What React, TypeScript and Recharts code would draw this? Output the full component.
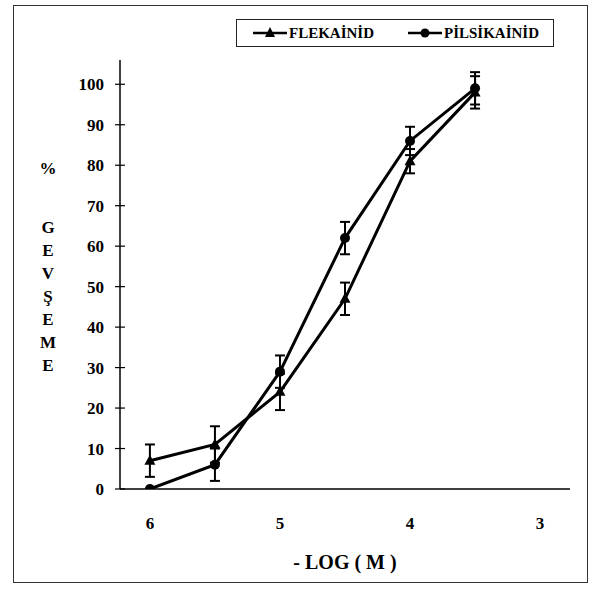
import { ErrorBar, Line, LineChart, XAxis, YAxis } from "recharts"

// -log(M) concentrations
const logM = [6, 5.5, 5, 4.5, 4, 3.5]

// % gevşeme values with error (SEM)
const flekainid = [7, 11, 24, 47, 81, 98]
const flekainidErr = [4, 4.5, 4.5, 4, 3, 4]
const pilsikainid = [0, 6, 29, 62, 86, 99]
const pilsikainidErr = [0, 4, 4, 4, 3.5, 4]

const xTicks = [6, 5, 4, 3]
const yTicks = [0, 10, 20, 30, 40, 50, 60, 70, 80, 90, 100]
const yLabel = ["%", "", "G", "E", "V", "Ş", "E", "M", "E"]

const FONT = '"Liberation Serif", "Times New Roman", serif'

const data = logM.map((m, i) => ({
  logM: m,
  flek: flekainid[i],
  flekErr: flekainidErr[i],
  pils: pilsikainid[i],
  pilsErr: pilsikainidErr[i],
}))

const Triangle = (props: any) => {
  const { cx, cy } = props
  if (cx == null || cy == null) return null
  return <path d={`M${cx},${cy - 6} L${cx + 5.5},${cy + 4} L${cx - 5.5},${cy + 4} Z`} fill="#000" />
}

const Dot = (props: any) => {
  const { cx, cy } = props
  if (cx == null || cy == null) return null
  return <circle cx={cx} cy={cy} r={5} fill="#000" />
}

// y ticks drawn as little crosses on the axis, like the original
const YTick = ({ y, payload }: any) => (
  <g>
    <line x1={115} x2={125} y1={y} y2={y} stroke="#000" strokeWidth={1.2} />
    <text x={104} y={y} dy={6} textAnchor="end" fontFamily={FONT} fontWeight="bold" fontSize={17} fill="#000">
      {payload.value}
    </text>
  </g>
)

const LegendBox = () => (
  <div
    style={{
      position: "absolute",
      left: 236,
      top: 19,
      border: "1.5px solid #222",
      width: 318,
      height: 28,
      display: "flex",
      alignItems: "center",
      fontFamily: FONT,
      fontWeight: "bold",
      fontSize: 15,
      color: "#000",
      boxSizing: "border-box",
    }}
  >
    <svg width={36} height={14} style={{ marginLeft: 15 }}>
      <line x1={1} x2={35} y1={7} y2={7} stroke="#000" strokeWidth={2.5} />
      <path d="M18,1 L23,11 L13,11 Z" fill="#000" />
    </svg>
    <span style={{ marginLeft: 1 }}>FLEKAİNİD</span>
    <svg width={36} height={14} style={{ marginLeft: 33 }}>
      <line x1={1} x2={35} y1={7} y2={7} stroke="#000" strokeWidth={2.5} />
      <circle cx={18} cy={7} r={4.5} fill="#000" />
    </svg>
    <span style={{ marginLeft: 1 }}>PİLSİKAİNİD</span>
  </div>
)

export default function App() {
  return (
    <div style={{ position: "absolute", left: 0, top: 0, width: 592, height: 590, background: "#fff" }}>
      <div
        style={{
          position: "absolute",
          left: 13,
          top: 5,
          width: 575,
          height: 578,
          border: "1.5px solid #333",
          boxSizing: "border-box",
        }}
      />
      <div
        style={{
          position: "absolute",
          left: 39,
          top: 157,
          width: 18,
          fontFamily: FONT,
          fontWeight: "bold",
          fontSize: 17,
          lineHeight: "23px",
          textAlign: "center",
          color: "#000",
        }}
      >
        {yLabel.map((c, i) => (
          <div key={i} style={{ height: i === 1 ? 36 : 23 }}>{c}</div>
        ))}
      </div>
      <LegendBox />
      <LineChart width={592} height={590} data={data} margin={{ top: 60, right: 22, bottom: 61, left: 70 }}>
        <XAxis
          dataKey="logM"
          type="number"
          domain={[2.77, 6.23]}
          reversed
          ticks={xTicks}
          tickLine={false}
          axisLine={{ stroke: "#000", strokeWidth: 1.5 }}
          tick={{ fontFamily: FONT, fontWeight: "bold", fontSize: 17, fill: "#000" }}
          tickMargin={22}
          height={40}
          label={{
            value: "- LOG ( M )",
            position: "insideBottom",
            offset: -40,
            style: { fontFamily: FONT, fontWeight: "bold", fontSize: 20, fill: "#000" },
          }}
        />
        <YAxis
          type="number"
          domain={[0, 106]}
          ticks={yTicks}
          width={50}
          tickLine={false}
          axisLine={{ stroke: "#000", strokeWidth: 1.5 }}
          tick={<YTick />}
          allowDataOverflow
        />
        <Line
          dataKey="flek"
          name="FLEKAİNİD"
          type="linear"
          stroke="#000"
          strokeWidth={3}
          dot={<Triangle />}
          isAnimationActive={false}
        >
          <ErrorBar dataKey="flekErr" direction="y" width={5} stroke="#000" strokeWidth={2} isAnimationActive={false} />
        </Line>
        <Line
          dataKey="pils"
          name="PİLSİKAİNİD"
          type="linear"
          stroke="#000"
          strokeWidth={3}
          dot={<Dot />}
          isAnimationActive={false}
        >
          <ErrorBar dataKey="pilsErr" direction="y" width={5} stroke="#000" strokeWidth={2} isAnimationActive={false} />
        </Line>
      </LineChart>
    </div>
  )
}
